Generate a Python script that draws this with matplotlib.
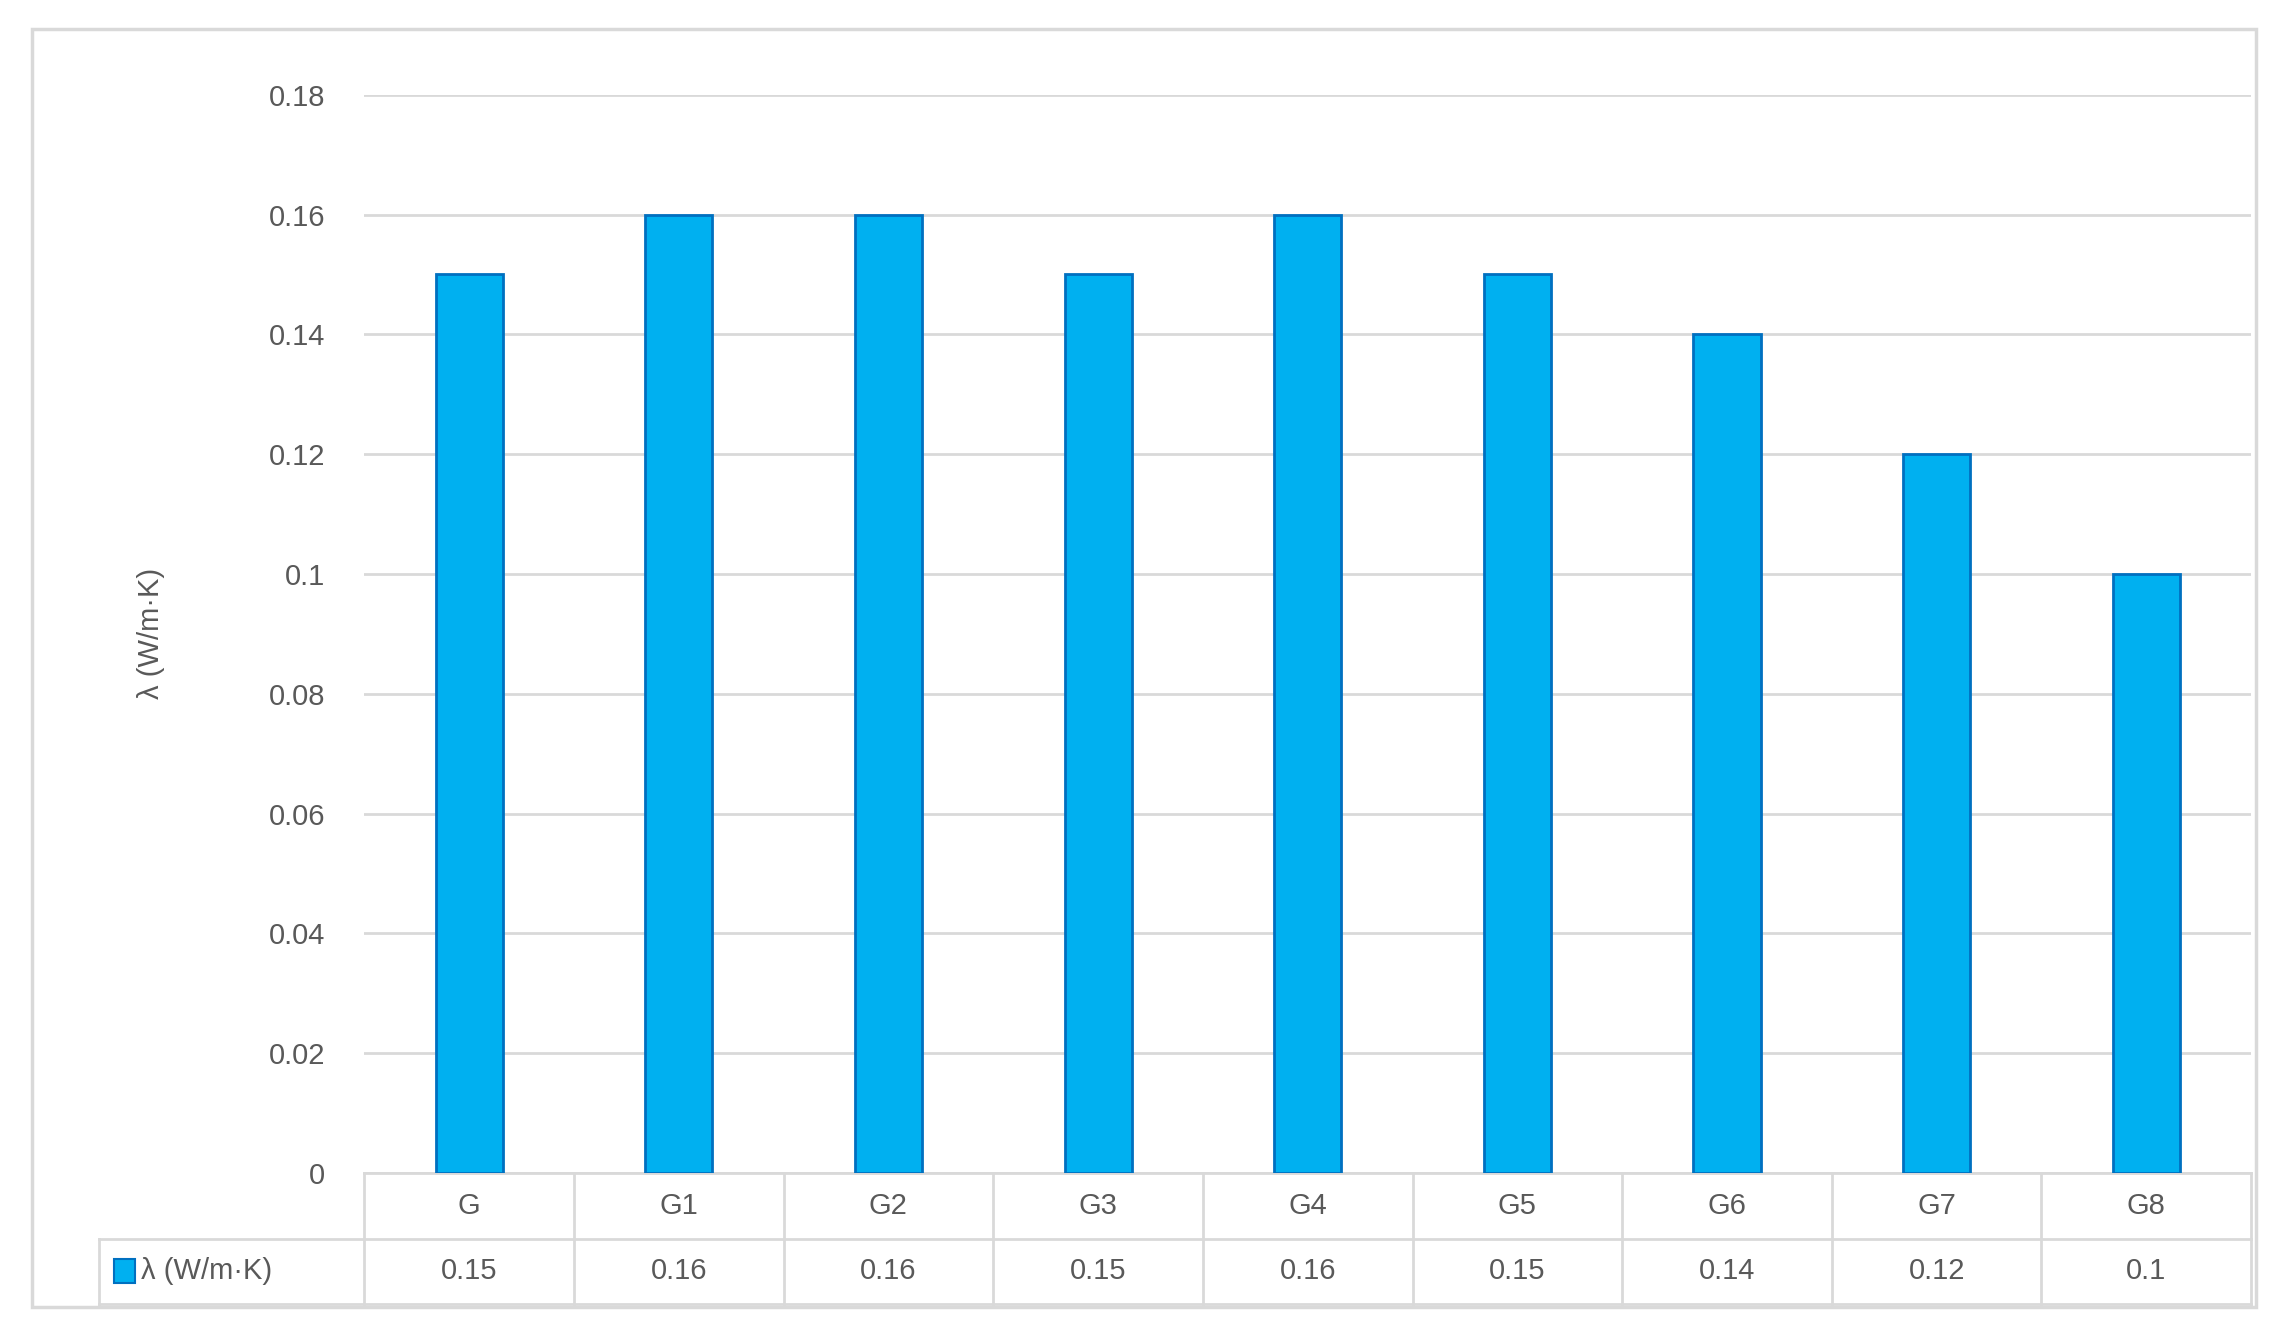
import matplotlib
matplotlib.use("Agg")
import matplotlib.pyplot as plt
from matplotlib.patches import Rectangle
import matplotlib.transforms as mt

categories = ["G", "G1", "G2", "G3", "G4", "G5", "G6", "G7", "G8"]
values = [0.15, 0.16, 0.16, 0.15, 0.16, 0.15, 0.14, 0.12, 0.1]
value_labels = ["0.15", "0.16", "0.16", "0.15", "0.16", "0.15", "0.14", "0.12", "0.1"]
series_name = "λ (W/m·K)"
yticks = [0, 0.02, 0.04, 0.06, 0.08, 0.1, 0.12, 0.14, 0.16, 0.18]
ytick_labels = ["0", "0.02", "0.04", "0.06", "0.08", "0.1", "0.12", "0.14", "0.16", "0.18"]

plt.rcParams['font.family'] = ['Liberation Sans', 'DejaVu Sans']
txt = "#595959"
grid = "#D9D9D9"
fs = 21

fig = plt.figure(figsize=(22.73, 13.26), dpi=100)
fig.patches.append(Rectangle((22/1560, 1-897/910), (1548-22)/1560, (897-20)/910,
                             transform=fig.transFigure, fill=False, ec=grid, lw=2.5))
ax = fig.add_axes([250/1560, 1-805/910, (1545-250)/1560, (805-65)/910])
n = len(categories)
x = list(range(n))
ax.bar(x, values, width=0.32, color="#00B0F0", edgecolor="#0070C0", linewidth=2, zorder=3)
ax.set_xlim(-0.5, n-0.5)
ax.set_ylim(0, 0.18)
ax.set_yticks(yticks)
ax.set_yticklabels(ytick_labels, fontsize=fs, color=txt)
ax.tick_params(axis='y', length=0, pad=28)
ax.set_xticks([])
ax.grid(axis='y', color=grid, lw=2, zorder=0)
for s in ax.spines.values():
    s.set_visible(False)
ax.set_ylabel(series_name, fontsize=fs, color=txt, labelpad=75)

tr = mt.blended_transform_factory(ax.transData, ax.transAxes)
rh = 45/740
kw = dict(transform=tr, clip_on=False, color=grid, lw=2)
ax.plot([-0.5, n-0.5], [0, 0], **kw)
ax.plot([-0.5, n-0.5], [-rh, -rh], **kw)
ax.plot([-0.5, n-0.5], [-2*rh, -2*rh], **kw)
for i in range(n+1):
    ax.plot([i-0.5, i-0.5], [0, -2*rh], **kw)
# legend label column
lx = -0.5 - (250-68)/143.9
ax.plot([lx, -0.5], [-rh, -rh], **kw)
ax.plot([lx, -0.5], [-2*rh, -2*rh], **kw)
ax.plot([lx, lx], [-rh, -2*rh], **kw)
for i in range(n):
    ax.text(i, -rh/2, categories[i], transform=tr, ha='center', va='center', fontsize=fs, color=txt)
    ax.text(i, -1.5*rh, value_labels[i], transform=tr, ha='center', va='center', fontsize=fs, color=txt)
ax.add_patch(Rectangle((lx+0.07, -1.5*rh-0.011), 0.1, 0.022, transform=tr, clip_on=False,
                       fc="#00B0F0", ec="#0070C0", lw=1.5))
ax.text(lx+0.2, -1.5*rh, series_name, transform=tr, ha='left', va='center', fontsize=fs, color=txt)

fig.savefig("out.png", dpi=100)
